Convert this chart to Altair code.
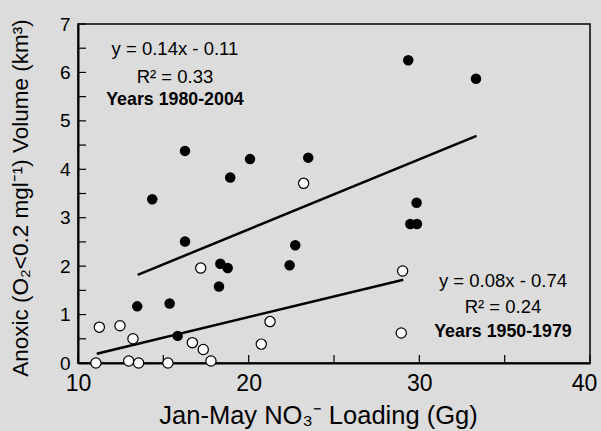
import altair as alt
import pandas as pd

# 1980-2004 (filled)
late_x = [14.35, 16.27, 20.08, 23.49, 18.92, 16.27, 22.73, 22.40, 13.47, 15.37,
          15.84, 18.34, 18.77, 18.26, 29.35, 33.32, 29.84, 29.47, 29.86]
late_y = [3.38, 4.38, 4.21, 4.24, 3.83, 2.51, 2.43, 2.02, 1.17, 1.23,
          0.56, 2.05, 1.96, 1.58, 6.25, 5.87, 3.31, 2.87, 2.87]
# 1950-1979 (open)
early_x = [11.25, 12.46, 13.22, 11.05, 12.97, 13.55, 15.27, 16.70, 17.34, 17.79,
           17.19, 20.74, 21.25, 23.22, 29.02, 28.94]
early_y = [0.74, 0.77, 0.50, 0.0, 0.04, 0.0, 0.0, 0.42, 0.28, 0.04,
           1.96, 0.39, 0.855, 3.71, 1.90, 0.62]

# regression line end points
late_line_x = [13.5, 33.35]
late_line_y = [1.82, 4.69]
early_line_x = [11.1, 29.06]
early_line_y = [0.19, 1.72]

ann_text = ["y = 0.14x - 0.11", "R² = 0.33", "Years 1980-2004",
            "y = 0.08x - 0.74", "R² = 0.24", "Years 1950-1979"]
ann_x = [15.68, 15.68, 15.68, 34.9, 34.9, 34.9]
ann_y = [6.48, 5.90, 5.43, 1.69, 1.15, 0.63]
ann_bold = [False, False, True, False, False, True]

y_ticks = [i * 0.5 for i in range(0, 15)]
x_ticks = [10, 15, 20, 25, 30, 35, 40]

W, H = 512, 339
FONT = "Liberation Sans"

late = pd.DataFrame({"x": late_x, "y": late_y})
early = pd.DataFrame({"x": early_x, "y": early_y})
lines = pd.DataFrame({
    "x": late_line_x + early_line_x,
    "y": late_line_y + early_line_y,
    "g": ["late"] * 2 + ["early"] * 2,
})
ann = pd.DataFrame({"t": ann_text, "x": ann_x, "y": ann_y, "b": ann_bold})

xs = alt.Scale(domain=[10, 40], nice=False, zero=False)
ys = alt.Scale(domain=[0, 7], nice=False, zero=False)

xax = alt.Axis(values=[10, 20, 30, 40], ticks=False, grid=False, domainColor="black",
               domainWidth=2, labelFontSize=23, labelColor="black", labelPadding=9,
               labelFlush=False, labelFont=FONT,
               labelOffset=alt.condition("datum.value == 40", alt.value(-6), alt.value(0)),
               title="Jan-May NO₃⁻ Loading (Gg)", titleFont=FONT,
               titleFontSize=25.5, titleFontWeight="normal", titleColor="black",
               titleX=240, titleY=60, titleAlign="center", titleBaseline="alphabetic")
yax = alt.Axis(values=list(range(0, 8)), ticks=False, grid=False, domainColor="black",
               domainWidth=2, labelFontSize=19, labelColor="black", labelPadding=8,
               labelFlush=False, labelFont=FONT,
               title="Anoxic (O₂<0.2 mgl⁻¹) Volume (km³)", titleFont=FONT,
               titleFontSize=22.5, titleFontWeight="normal", titleColor="black",
               titleX=-58, titleY=H / 2 + 4, titleAlign="center", titleBaseline="middle",
               titleAngle=270)

base_late = alt.Chart(late).mark_circle(size=110, color="black", opacity=1).encode(
    x=alt.X("x:Q", scale=xs, axis=xax),
    y=alt.Y("y:Q", scale=ys, axis=yax),
)
base_early = alt.Chart(early).mark_point(shape="circle", size=105, filled=True, fill="white",
                                         stroke="black", strokeWidth=1.2, opacity=1).encode(
    x=alt.X("x:Q", scale=xs), y=alt.Y("y:Q", scale=ys))

reg = alt.Chart(lines).mark_line(color="black", strokeWidth=2.5).encode(
    x=alt.X("x:Q", scale=xs), y=alt.Y("y:Q", scale=ys), detail="g:N")

ann_reg = alt.Chart(ann[~ann.b]).mark_text(font=FONT, fontSize=18.5, color="black").encode(
    x=alt.X("x:Q", scale=xs), y=alt.Y("y:Q", scale=ys), text="t:N")
ann_bold_l = alt.Chart(ann[ann.b]).mark_text(font=FONT, fontSize=17.8, fontWeight="bold",
                                             color="black").encode(
    x=alt.X("x:Q", scale=xs), y=alt.Y("y:Q", scale=ys), text="t:N")

ytk = alt.Chart(pd.DataFrame({"v": y_ticks})).mark_rule(color="black", strokeWidth=1.2).encode(
    y=alt.Y("v:Q", scale=ys), x=alt.value(0), x2=alt.value(8))
xtk = alt.Chart(pd.DataFrame({"v": x_ticks})).mark_rule(color="black", strokeWidth=1.2).encode(
    x=alt.X("v:Q", scale=xs), y=alt.value(H), y2=alt.value(H - 8))

chart = alt.layer(ytk, xtk, reg, base_early, base_late, ann_reg, ann_bold_l).properties(
    width=W, height=H, background="#dcdcdc",
    autosize=alt.AutoSizeParams(type="none"),
    padding={"left": 78, "top": 24, "right": 11, "bottom": 68},
).configure_view(stroke="black", strokeWidth=1.5, fill="#dcdcdc")

chart.save("out.html", embed_options={"renderer": "svg", "actions": False})
